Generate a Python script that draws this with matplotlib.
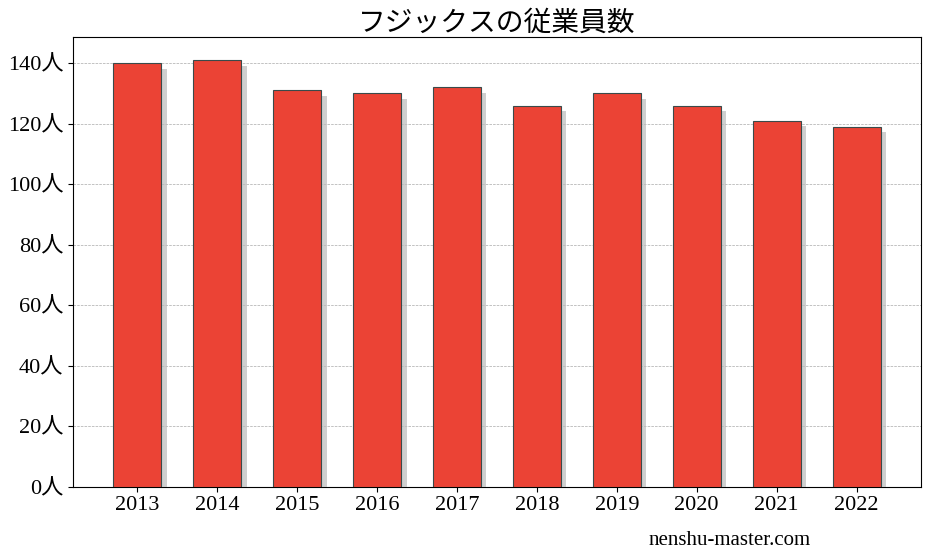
import matplotlib
matplotlib.use("Agg")
import matplotlib.pyplot as plt
import matplotlib.patheffects as pe

years = ["2013","2014","2015","2016","2017","2018","2019","2020","2021","2022"]
employees = [140, 141, 131, 130, 132, 126, 130, 126, 121, 119]
yticks = [0, 20, 40, 60, 80, 100, 120, 140]

fam = ['Liberation Serif', 'Noto Sans CJK JP']
plt.rcParams['font.family'] = fam

fig = plt.figure(figsize=(9.27, 5.55), dpi=100)
ax = fig.add_axes([0.079, 0.123, 0.914, 0.810])
x = list(range(len(years)))
bars = ax.bar(x, employees, width=0.6, color='#eb4335', edgecolor='#3a4a4a', linewidth=0.8, zorder=3,
              path_effects=[pe.SimplePatchShadow(offset=(4, -4), shadow_rgbFace='#bbbbbb', alpha=0.7), pe.Normal()])
ax.set_xlim(-0.8, 9.8)
ax.set_ylim(0, 148.6)
ax.set_yticks(yticks)
ax.set_yticklabels([f"{v}人" for v in yticks], fontsize=16)
ax.set_xticks(x)
ax.set_xticklabels(years, fontsize=16)
ax.grid(axis='y', linestyle='--', linewidth=0.5, color='#aaaaaa', zorder=0)
ax.set_title("フジックスの従業員数", fontsize=20, pad=4)
fig.text(0.70, 0.018, "nenshu-master.com", fontsize=15)
fig.savefig("out.png")
